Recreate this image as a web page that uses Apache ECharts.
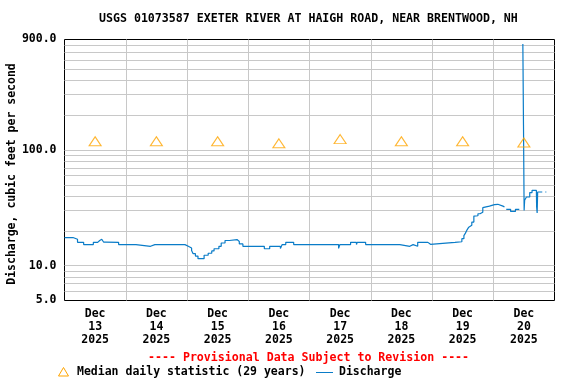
<!DOCTYPE html>
<html><head><meta charset="utf-8">
<script src="https://cdn.jsdelivr.net/npm/echarts@6/dist/echarts.min.js"></script>
<style>html,body{margin:0;padding:0;background:#fff}#c{width:576px;height:384px}</style>
</head><body><div id="c"></div><script>
// hours since 2025-12-13 00:00
const hours = [0,3.3,5.1,7.5,11.3,13.0,13.8,14.6,15.3,16.1,21.2,28.0,33.7,35.4,35.7,37.8,38.1,47.2,48.5,49.8,50.4,51.3,52.3,54.7,56.3,57.7,58.6,60.5,61.4,62.9,64.6,67.6,68.5,69.9,78.3,80.4,84.6,85.3,86.7,89.8,104.9,105.2,107.4,107.9,112.1,114.4,114.7,118.0,127.5,127.8,131.4,135.3,136.6,138.4,142.4,142.7,143.1,143.4,153.0,155.7,156.5,157.1,157.8,158.4,158.9,159.6,160.4,161.0,162.0,162.8,163.9,164.6,166.5,167.2,168.5,169.8,170.5,171.8,172.4,173.1,174.8,176.7,177.7,178.2,179.6,179.85,180.1,180.3,181.0,182.3,183.2,184.9,185.0,185.2,185.4,186.9,187.2,188.4,188.8];
const flow = [17.5,16.9,15.9,15.2,15.9,16.5,16.9,16.3,16.0,15.9,15.2,14.7,15.2,14.7,15.2,14.7,15.2,14.7,14.2,13.5,12.7,12.1,11.5,12.3,12.8,13.4,14.0,14.7,15.7,16.5,16.8,16.2,15.4,14.7,14.0,14.7,14.1,15.2,15.9,15.2,14.7,15.2,14.1,15.2,15.9,15.2,15.9,15.2,14.7,15.2,14.7,15.2,14.7,15.9,15.3,15.9,15.3,15.9,16.1,17.1,18.2,19.1,20.5,21.5,22.3,23.8,26.8,27.0,28.1,29.0,31.7,32.7,33.2,33.7,33.9,33.2,32.7,32.1,null,30.7,29.4,30.7,30.7,null,822,164,30.0,36.7,39.2,42.8,44.8,44.8,32.1,28.5,43.3,43.3,null,43.3,43.3];
const medianHours = [12,36,60,84,108,132,156,180];
const medianFlow = [119,119,119,114,124,119,119,116];
const dayLabelHours = [12,36,60,84,108,132,156,180];
const dayLabels = ['Dec\n13\n2025','Dec\n14\n2025','Dec\n15\n2025','Dec\n16\n2025','Dec\n17\n2025','Dec\n18\n2025','Dec\n19\n2025','Dec\n20\n2025'];
const xGrid = [24,48,72,96,120,144,168];
const yTicks = [5,10,100,900];
const yGrid = [6,7,8,9,10,20,30,40,50,60,70,80,90,100,200,300,400,500,600,700,800];

const FONT = 'DejaVu Sans Mono';
const BLUE = '#0a7cc8';
const GRID = '#c8c8c8';
const chart = echarts.init(document.getElementById('c'), null, {renderer:'canvas'});
chart.setOption({
  animation:false,
  backgroundColor:'#fff',
  title:{text:'USGS 01073587 EXETER RIVER AT HAIGH ROAD, NEAR BRENTWOOD, NH',left:99,top:13,padding:0,
    textStyle:{fontFamily:FONT,fontWeight:'bold',fontSize:11.6,color:'#000'}},
  grid:{left:64.5,right:21.5,top:39.5,bottom:83.5,containLabel:false,outerBoundsMode:'none',show:true,borderColor:'#000',borderWidth:1,backgroundColor:'transparent'},
  xAxis:{type:'value',min:0,max:192,interval:24,
    axisLine:{show:false},axisTick:{show:false},splitLine:{show:false},
    axisLabel:{customValues:dayLabelHours,margin:7,fontFamily:FONT,fontWeight:'bold',fontSize:11.5,color:'#000',lineHeight:13,
      formatter:function(v){const i=dayLabelHours.indexOf(v);return i>=0?dayLabels[i]:'';}}},
  yAxis:{type:'log',logBase:10,min:5,max:900,
    axisLine:{show:false},axisTick:{show:false},splitLine:{show:false},
    axisLabel:{customValues:yTicks,margin:8,fontFamily:FONT,fontWeight:'bold',fontSize:11.5,color:'#000',
      formatter:function(v){return Number(v).toFixed(1);}},
    name:'Discharge, cubic feet per second',nameLocation:'middle',nameGap:46,nameMoveOverlap:false,
    nameTextStyle:{fontFamily:FONT,fontWeight:'bold',fontSize:11.5,color:'#000',padding:[0,8,0,0]}},
  series:[
    {type:'line',name:'grid',data:[],z:1,silent:true,
      markLine:{silent:true,z:1,symbol:['none','none'],label:{show:false},animation:false,
        lineStyle:{color:GRID,width:1,type:'solid'},
        data:yGrid.map(v=>({yAxis:v})).concat(xGrid.map(v=>({xAxis:v})))}},
    {type:'line',name:'Discharge',z:3,showSymbol:false,step:'end',connectNulls:false,
      lineStyle:{color:BLUE,width:1.2},itemStyle:{color:BLUE},
      data:hours.map((h,i)=>[h,flow[i]])},
    {type:'scatter',name:'Median daily statistic (29 years)',z:4,symbol:'triangle',symbolSize:[12,9],
      itemStyle:{color:'rgba(0,0,0,0)',borderColor:'#ffa500',borderWidth:1.1},
      data:medianHours.map((h,i)=>[h,medianFlow[i]])}
  ],
  graphic:[
    {type:'text',left:148,top:352,style:{text:'---- Provisional Data Subject to Revision ----',fontFamily:FONT,fontWeight:'bold',fontSize:11.6,fill:'#ff0000'}},
    {type:'polygon',shape:{points:[[63.5,367.5],[58.5,376],[68.5,376]]},style:{fill:'none',stroke:'#ffa500',lineWidth:1}},
    {type:'text',left:77,top:366,style:{text:'Median daily statistic (29 years)',fontFamily:FONT,fontWeight:'bold',fontSize:11.5,fill:'#000'}},
    {type:'line',shape:{x1:316,y1:372.5,x2:333,y2:372.5},style:{stroke:BLUE,lineWidth:1}},
    {type:'text',left:339,top:366,style:{text:'Discharge',fontFamily:FONT,fontWeight:'bold',fontSize:11.5,fill:'#000'}}
  ]
});
</script></body></html>
